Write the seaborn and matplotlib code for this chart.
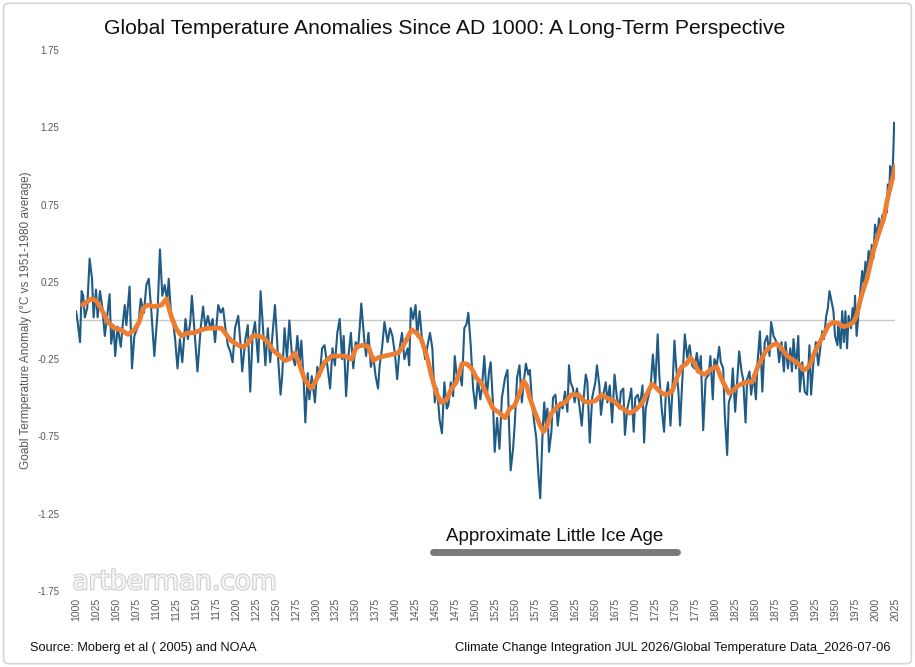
import matplotlib
matplotlib.use("Agg")
import matplotlib.pyplot as plt
import matplotlib.patheffects as pe
from matplotlib.patches import FancyBboxPatch
import seaborn as sns
import pandas as pd

# annual anomaly readings (year, deg C vs 1951-1980)
raw_years = [
    1000, 1002, 1005, 1007, 1009, 1011, 1014, 1017, 1020, 1022, 1025, 1027, 1030, 1033, 1036, 1039,
    1042, 1044, 1047, 1049, 1052, 1056, 1058, 1061, 1063, 1067, 1070, 1073, 1078, 1081, 1085, 1088,
    1091, 1094, 1098, 1102, 1105, 1108, 1111, 1114, 1116, 1119, 1122, 1124, 1127, 1130, 1133, 1137,
    1140, 1143, 1145, 1149, 1152, 1156, 1159, 1162, 1165, 1168, 1171, 1174, 1178, 1181, 1184, 1187,
    1190, 1193, 1196, 1199, 1203, 1206, 1208, 1212, 1215, 1218, 1221, 1224, 1228, 1231, 1234, 1237,
    1240, 1243, 1249, 1253, 1256, 1258, 1261, 1264, 1267, 1270, 1274, 1277, 1280, 1282, 1285, 1287,
    1290, 1292, 1295, 1299, 1302, 1305, 1308, 1311, 1314, 1318, 1321, 1324, 1327, 1330, 1333, 1335,
    1338, 1341, 1344, 1347, 1350, 1353, 1355, 1357, 1361, 1363, 1366, 1369, 1372, 1375, 1378, 1380,
    1383, 1386, 1390, 1393, 1396, 1399, 1402, 1405, 1408, 1411, 1415, 1417, 1419, 1422, 1425, 1427,
    1430, 1433, 1437, 1440, 1443, 1446, 1449, 1452, 1455, 1458, 1461, 1464, 1466, 1469, 1472, 1474,
    1477, 1480, 1483, 1486, 1489, 1491, 1494, 1497, 1500, 1503, 1506, 1508, 1511, 1514, 1517, 1519,
    1522, 1524, 1527, 1530, 1533, 1537, 1540, 1542, 1544, 1547, 1549, 1552, 1555, 1558, 1561, 1563,
    1566, 1568, 1571, 1574, 1576, 1579, 1581, 1584, 1586, 1588, 1590, 1592, 1595, 1597, 1600, 1603,
    1606, 1609, 1612, 1615, 1617, 1619, 1622, 1624, 1627, 1630, 1633, 1636, 1638, 1640, 1643, 1646,
    1650, 1652, 1655, 1657, 1660, 1663, 1665, 1668, 1671, 1674, 1677, 1680, 1682, 1685, 1687, 1690,
    1693, 1695, 1698, 1700, 1703, 1706, 1709, 1711, 1713, 1716, 1719, 1722, 1725, 1728, 1730, 1733,
    1736, 1738, 1741, 1744, 1746, 1749, 1751, 1754, 1756, 1759, 1762, 1765, 1768, 1771, 1774, 1777,
    1780, 1782, 1785, 1788, 1792, 1794, 1797, 1799, 1802, 1805, 1807, 1810, 1812, 1815, 1817, 1820,
    1822, 1825, 1828, 1830, 1833, 1835, 1838, 1840, 1843, 1845, 1848, 1851, 1853, 1856, 1859, 1862,
    1865, 1868, 1870, 1873, 1875, 1878, 1880, 1883, 1886, 1888, 1891, 1894, 1896, 1898, 1901, 1904,
    1906, 1909, 1912, 1915, 1918, 1920, 1923, 1926, 1929, 1931, 1934, 1936, 1939, 1941, 1943, 1945,
    1948, 1950, 1953, 1954, 1957, 1959, 1961, 1963, 1965, 1967, 1970, 1972, 1974, 1975, 1977, 1980,
    1982, 1984, 1986, 1988, 1990, 1992, 1994, 1996, 1998, 2000, 2003, 2005, 2007, 2009, 2011, 2013,
    2015, 2016, 2018, 2019, 2020, 2021, 2022, 2023, 2024, 2025,
]
raw_vals = [
    0.06, -0.01, -0.14, 0.19, 0.16, 0.02, 0.08, 0.40, 0.27, 0.02, 0.20, 0.02, 0.19, 0.08, -0.10, 0.03,
    0.17, -0.15, -0.03, -0.23, -0.04, -0.17, -0.05, 0.10, -0.03, 0.22, -0.31, -0.10, -0.03, 0.14, 0.05, 0.23,
    0.27, 0.08, -0.23, 0.05, 0.46, 0.16, 0.23, 0.13, 0.27, 0.03, -0.03, -0.12, -0.31, -0.12, -0.27, 0.01,
    -0.12, -0.01, 0.16, -0.12, -0.33, -0.05, 0.09, -0.05, 0.03, -0.05, 0.01, -0.14, 0.10, 0.05, 0.08, -0.05,
    -0.16, -0.20, -0.27, -0.05, 0.03, -0.16, -0.33, -0.12, -0.03, -0.46, -0.10, -0.01, -0.27, 0.19, -0.05, -0.29,
    -0.05, -0.27, 0.10, -0.25, -0.48, -0.36, -0.05, -0.25, 0.00, -0.21, -0.29, -0.10, -0.27, -0.13, -0.40, -0.66,
    -0.34, -0.51, -0.36, -0.53, -0.30, -0.36, -0.18, -0.16, -0.27, -0.44, -0.18, -0.29, -0.08, 0.01, -0.25, -0.10,
    -0.49, -0.23, -0.08, -0.31, -0.14, -0.18, -0.05, 0.11, -0.14, -0.23, -0.08, -0.30, -0.23, -0.36, -0.44, -0.29,
    -0.18, -0.01, -0.14, -0.05, -0.10, -0.21, -0.38, -0.18, -0.08, -0.25, -0.18, -0.29, 0.08, 0.01, 0.10, -0.10,
    0.06, -0.12, -0.25, -0.16, -0.08, -0.18, -0.53, -0.44, -0.64, -0.73, -0.40, -0.57, -0.55, -0.40, -0.49, -0.23,
    -0.38, -0.34, -0.42, -0.05, -0.02, 0.05, -0.16, -0.44, -0.57, -0.38, -0.51, -0.44, -0.23, -0.50, -0.33, -0.27,
    -0.55, -0.85, -0.63, -0.83, -0.50, -0.37, -0.32, -0.68, -0.97, -0.83, -0.68, -0.37, -0.29, -0.53, -0.37, -0.28,
    -0.35, -0.32, -0.55, -0.68, -0.76, -1.02, -1.15, -0.72, -0.53, -0.68, -0.57, -0.85, -0.72, -0.50, -0.48, -0.68,
    -0.53, -0.57, -0.46, -0.59, -0.29, -0.40, -0.44, -0.53, -0.44, -0.55, -0.68, -0.46, -0.35, -0.40, -0.79, -0.50,
    -0.40, -0.29, -0.42, -0.61, -0.48, -0.40, -0.53, -0.42, -0.66, -0.35, -0.50, -0.57, -0.46, -0.44, -0.74, -0.57,
    -0.50, -0.44, -0.72, -0.50, -0.48, -0.55, -0.42, -0.79, -0.57, -0.50, -0.44, -0.22, -0.42, -0.09, -0.35, -0.57,
    -0.72, -0.50, -0.40, -0.68, -0.50, -0.13, -0.29, -0.46, -0.68, -0.37, -0.09, -0.24, -0.16, -0.29, -0.31, -0.21,
    -0.33, -0.23, -0.71, -0.38, -0.35, -0.23, -0.51, -0.25, -0.29, -0.17, -0.27, -0.31, -0.61, -0.87, -0.53, -0.48,
    -0.31, -0.59, -0.35, -0.20, -0.33, -0.38, -0.66, -0.38, -0.33, -0.48, -0.35, -0.51, -0.27, -0.07, -0.46, -0.14,
    -0.10, -0.23, -0.01, -0.10, -0.12, -0.16, -0.27, -0.14, -0.33, -0.14, -0.31, -0.18, -0.33, -0.12, -0.31, -0.10,
    -0.46, -0.27, -0.46, -0.48, -0.16, -0.48, -0.27, -0.14, -0.29, -0.20, -0.07, -0.12, 0.03, 0.08, 0.19, 0.14,
    0.06, -0.10, -0.16, -0.01, -0.18, 0.06, -0.14, 0.06, -0.18, 0.03, -0.05, 0.08, -0.01, 0.16, -0.10, 0.08,
    0.21, 0.32, 0.23, 0.38, 0.29, 0.45, 0.36, 0.49, 0.40, 0.62, 0.55, 0.66, 0.58, 0.68, 0.64, 0.75,
    0.70, 0.88, 0.85, 1.00, 0.96, 0.90, 0.95, 1.10, 1.28, 1.22,
]

# smoothed (moving average) readings
smooth_years = [
    1008, 1019, 1025, 1031, 1040, 1048, 1056, 1065, 1073, 1079, 1084, 1090, 1098, 1107, 1113, 1119,
    1125, 1132, 1140, 1148, 1157, 1165, 1173, 1182, 1188, 1194, 1203, 1209, 1215, 1221, 1228, 1234,
    1240, 1246, 1253, 1261, 1267, 1274, 1280, 1286, 1294, 1299, 1305, 1311, 1320, 1328, 1336, 1345,
    1351, 1359, 1366, 1372, 1378, 1386, 1395, 1403, 1409, 1416, 1420, 1426, 1432, 1439, 1445, 1451,
    1457, 1464, 1470, 1476, 1483, 1489, 1495, 1501, 1508, 1514, 1522, 1528, 1537, 1543, 1549, 1556,
    1560, 1564, 1568, 1574, 1581, 1585, 1589, 1595, 1604, 1612, 1620, 1629, 1635, 1641, 1650, 1658,
    1664, 1673, 1679, 1687, 1693, 1700, 1708, 1714, 1721, 1727, 1733, 1739, 1746, 1752, 1758, 1764,
    1769, 1773, 1779, 1787, 1796, 1802, 1808, 1817, 1823, 1829, 1838, 1846, 1854, 1863, 1871, 1877,
    1883, 1890, 1896, 1904, 1911, 1915, 1919, 1925, 1931, 1938, 1942, 1948, 1954, 1961, 1967, 1973,
    1977, 1982, 1986, 1990, 1994, 1998, 2002, 2007, 2011, 2015, 2019, 2023, 2025,
]
smooth_vals = [
    0.10, 0.14, 0.13, 0.08, -0.01, -0.05, -0.06, -0.09, -0.06, -0.01, 0.08, 0.10, 0.09, 0.10, 0.14, 0.03,
    -0.05, -0.10, -0.08, -0.08, -0.06, -0.05, -0.05, -0.05, -0.09, -0.13, -0.16, -0.17, -0.15, -0.10, -0.10, -0.11,
    -0.14, -0.19, -0.22, -0.26, -0.25, -0.21, -0.29, -0.38, -0.44, -0.40, -0.34, -0.27, -0.23, -0.23, -0.23, -0.25,
    -0.17, -0.16, -0.17, -0.26, -0.24, -0.23, -0.22, -0.21, -0.17, -0.10, -0.06, -0.08, -0.12, -0.23, -0.36, -0.47,
    -0.53, -0.51, -0.44, -0.40, -0.28, -0.28, -0.31, -0.37, -0.41, -0.48, -0.57, -0.59, -0.63, -0.57, -0.55, -0.46,
    -0.39, -0.42, -0.50, -0.59, -0.68, -0.72, -0.69, -0.60, -0.55, -0.53, -0.48, -0.48, -0.52, -0.53, -0.52, -0.48,
    -0.50, -0.52, -0.55, -0.58, -0.60, -0.58, -0.54, -0.48, -0.41, -0.44, -0.47, -0.48, -0.46, -0.37, -0.30, -0.28,
    -0.24, -0.27, -0.33, -0.35, -0.31, -0.30, -0.38, -0.47, -0.45, -0.42, -0.40, -0.40, -0.29, -0.20, -0.16, -0.15,
    -0.18, -0.23, -0.25, -0.28, -0.32, -0.31, -0.28, -0.20, -0.14, -0.07, -0.03, -0.01, -0.02, -0.04, -0.03, -0.01,
    0.03, 0.14, 0.21, 0.27, 0.36, 0.45, 0.52, 0.60, 0.66, 0.77, 0.86, 0.94, 1.00,
]

x_ticks = list(range(1000, 2026, 25))
y_ticks = [1.75, 1.25, 0.75, 0.25, -0.25, -0.75, -1.25, -1.75]
lia_start, lia_end = 1447, 1752

raw = pd.DataFrame({"year": raw_years, "anomaly": raw_vals})
smooth = pd.DataFrame({"year": smooth_years, "anomaly": smooth_vals})

sns.set_style("white")
plt.rcParams["font.family"] = ["Liberation Sans", "DejaVu Sans"]

fig = plt.figure(figsize=(9.15, 6.67), dpi=100)
ax = fig.add_axes([0.0831, 0.114, 0.895, 0.811])

ax.axhline(0, color="#c9c9c9", lw=1.0, zorder=1)
sns.lineplot(data=raw, x="year", y="anomaly", ax=ax, color="#1f5b85", lw=1.5, zorder=2)
sns.lineplot(data=smooth, x="year", y="anomaly", ax=ax, color="#ed7d31", lw=3.4, zorder=3)

ax.set_xlim(1000, 2025)
ax.set_ylim(-1.75, 1.75)
ax.set_xticks(x_ticks)
ax.set_xticklabels([str(t) for t in x_ticks], rotation=90, fontsize=7.5, color="#595959")
ax.set_yticks(y_ticks)
ax.set_yticklabels([f"{t:.2f}" for t in y_ticks], fontsize=7, color="#595959")
ax.tick_params(axis="x", length=0, pad=5)
ax.tick_params(axis="y", length=0, pad=12)
for s in ax.spines.values():
    s.set_visible(False)
ax.set_xlabel("")
ax.set_ylabel("Goabl Termperature Anomaly (°C vs 1951-1980 average)", fontsize=8.5,
              color="#595959", labelpad=4)

# Little Ice Age marker
ax.plot([lia_start, lia_end], [-1.50, -1.50], color="#7a7a7a", lw=5, solid_capstyle="round",
        clip_on=False)
ax.text((lia_start + lia_end) / 2, -1.40, "Approximate Little Ice Age", ha="center", va="center",
        fontsize=13.5, color="#111111")

fig.text(0.486, 0.958, "Global Temperature Anomalies Since AD 1000: A Long-Term Perspective",
         ha="center", va="center", fontsize=15.2, color="#111111")
fig.text(0.033, 0.028, "Source: Moberg et al ( 2005) and NOAA", ha="left", va="center",
         fontsize=9.2, color="#111111")
fig.text(0.973, 0.028, "Climate Change Integration JUL 2026/Global Temperature Data_2026-07-06",
         ha="right", va="center", fontsize=9.3, color="#111111")

wm = fig.text(0.191, 0.127, "artberman.com", ha="center", va="center", fontsize=19,
              color="#f6f6f6", family="DejaVu Sans")
wm.set_path_effects([pe.withStroke(linewidth=1.6, foreground="#cfcfcf")])

frame = FancyBboxPatch((0.004, 0.005), 0.992, 0.99, boxstyle="round,pad=0,rounding_size=0.006",
                       transform=fig.transFigure, fill=False, ec="#d6d6d6", lw=1.2)
fig.patches.append(frame)

fig.savefig("out.png", dpi=100)
